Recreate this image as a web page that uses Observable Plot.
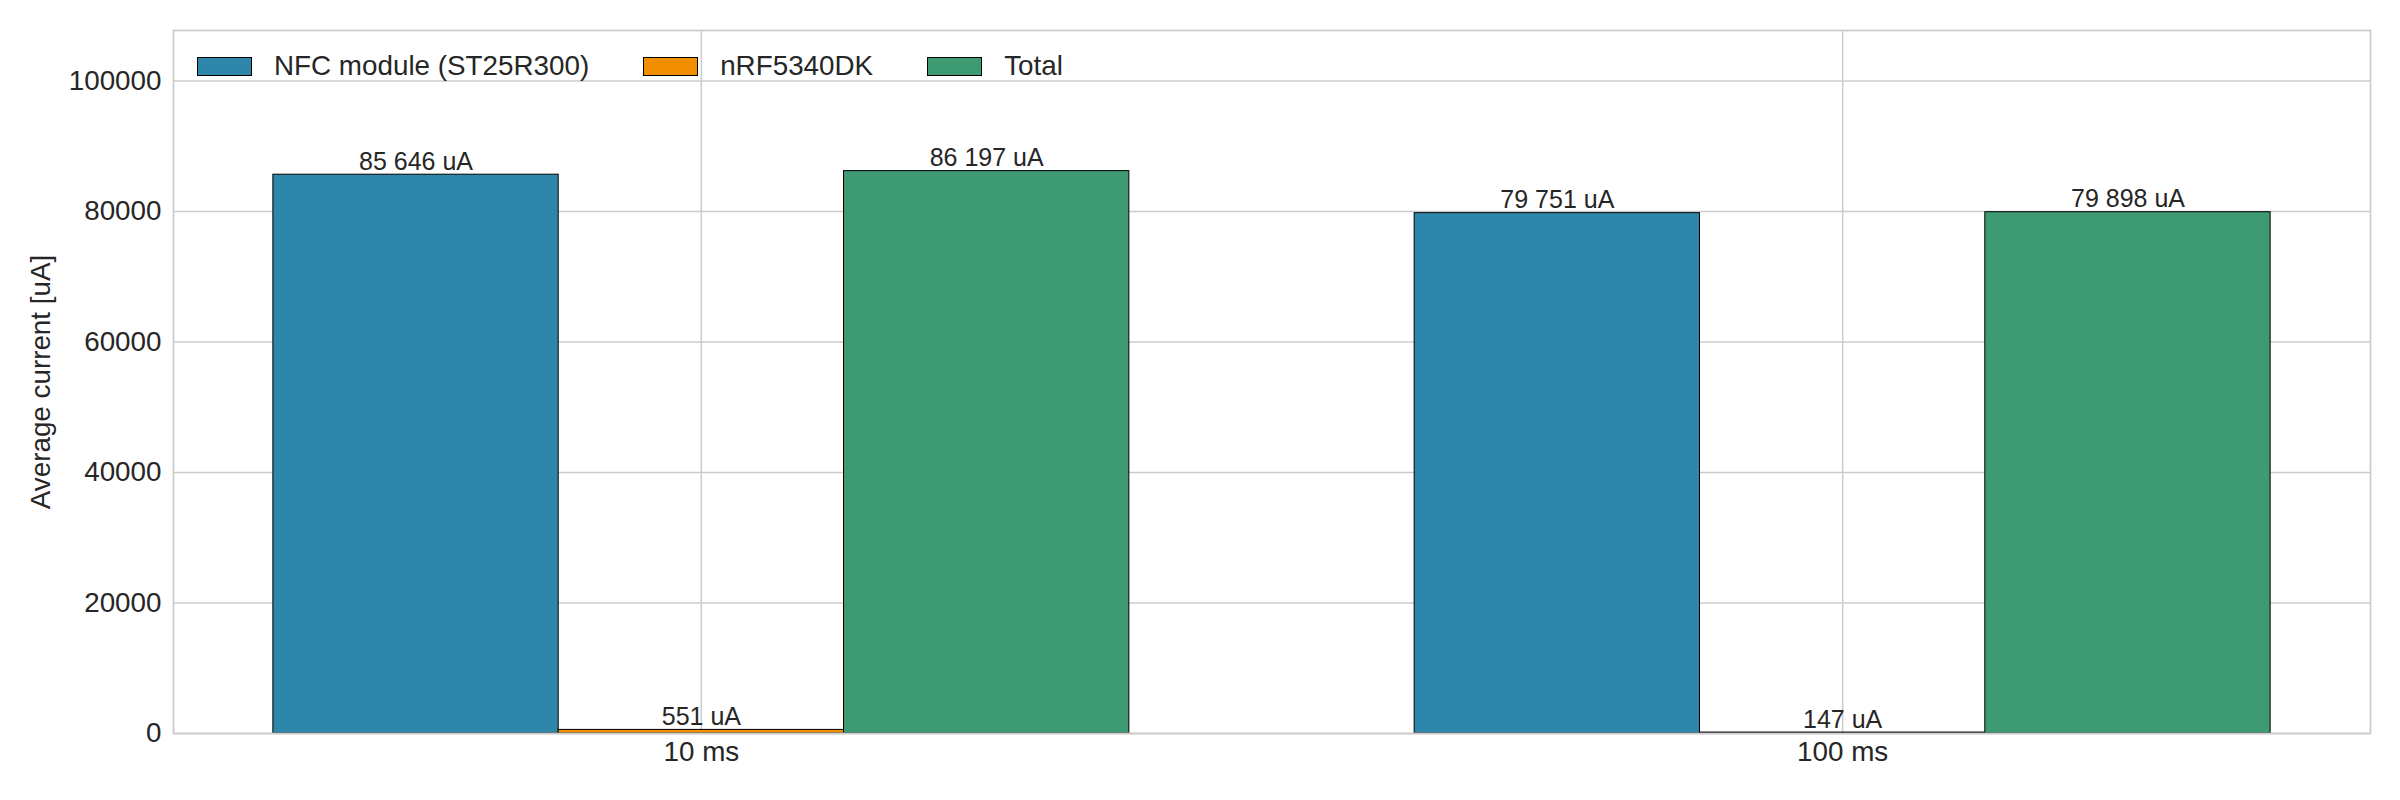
<!DOCTYPE html>
<html>
<head>
<meta charset="utf-8">
<script src="https://cdn.jsdelivr.net/npm/d3@7"></script>
<script src="https://cdn.jsdelivr.net/npm/@observablehq/plot@0.6"></script>
<style>
  html, body { margin: 0; padding: 0; background: #ffffff; }
  body { font-family: "Liberation Sans", Arial, sans-serif; color: #262626; }
  #wrap { position: relative; width: 2400px; height: 800px; }
  #legend { position: absolute; left: 197px; top: 50px; display: flex; align-items: center; font-size: 27.8px; color: #262626; }
  .item { display: flex; align-items: center; }
  .sw { width: 53px; height: 17px; border: 1.2px solid #000; box-sizing: content-box; }
  .lab { margin-left: 22px; white-space: nowrap; }
</style>
</head>
<body>
<div id="wrap"></div>
<script>
// ---- data ----
const intervals = ["10 ms", "100 ms"];
const seriesNames = ["NFC module (ST25R300)", "nRF5340DK", "Total"];
const nfcValues = [85646, 79751];
const nrfValues = [551, 147];
const totalValues = [86197, 79898];
const seriesColors = ["#2E86AB", "#F18F01", "#3D9A72"];
const yTicks = [0, 20000, 40000, 60000, 80000, 100000];
const yLabel = "Average current [uA]";

const seriesValues = [nfcValues, nrfValues, totalValues];
const barWidth = 0.25;
const rows = [];
intervals.forEach((iv, i) => {
  seriesNames.forEach((s, j) => {
    const c = i + (j - 1) * barWidth;
    rows.push({interval: iv, series: s, value: seriesValues[j][i], x1: c - barWidth / 2, x2: c + barWidth / 2, xc: c});
  });
});

const loc = d3.formatLocale({decimal: ".", thousands: " ", grouping: [3], currency: ["", ""]});
const fmt = loc.format(",d");
const yMax = d3.max(totalValues) * 1.25;

const chart = Plot.plot({
  width: 2400,
  height: 800,
  marginLeft: 173,
  marginRight: 30,
  marginTop: 30,
  marginBottom: 67,
  style: {fontFamily: '"Liberation Sans", Arial, sans-serif', color: "#262626", background: "#ffffff", overflow: "visible"},
  x: {type: "linear", domain: [-0.4625, 1.4625]},
  y: {domain: [0, yMax]},
  color: {domain: seriesNames, range: seriesColors},
  marks: [
    Plot.gridY(yTicks, {stroke: "#cccccc", strokeOpacity: 1, strokeWidth: 1.5}),
    Plot.gridX([0, 1], {stroke: "#cccccc", strokeOpacity: 1, strokeWidth: 1.5}),
    Plot.rectY(rows, {x1: "x1", x2: "x2", y: "value", fill: "series", stroke: "#000000", strokeWidth: 1}),
    Plot.text(rows, {x: "xc", y: "value", text: d => fmt(d.value) + " uA", lineAnchor: "bottom", dy: -5, fontSize: 25, fill: "#262626"}),
    Plot.frame({stroke: "#cccccc", strokeWidth: 1.8}),
    Plot.axisY({ticks: yTicks, tickSize: 0, tickPadding: 12, fontSize: 27.8, tickFormat: d => String(d),
      label: yLabel, labelAnchor: "center", labelArrow: "none", labelOffset: 143}),
    Plot.axisX({ticks: [0, 1], tickSize: 0, tickPadding: 8, fontSize: 27.8, tickFormat: i => intervals[i], label: null})
  ]
});

const wrap = document.getElementById("wrap");
wrap.appendChild(chart);

const legend = document.createElement("div");
legend.id = "legend";
const gaps = [0, 54, 54];
seriesNames.forEach((s, j) => {
  const it = document.createElement("div");
  it.className = "item";
  if (j > 0) it.style.marginLeft = gaps[j] + "px";
  const sw = document.createElement("div");
  sw.className = "sw";
  sw.style.background = seriesColors[j];
  const lb = document.createElement("span");
  lb.className = "lab";
  lb.textContent = s;
  it.appendChild(sw);
  it.appendChild(lb);
  legend.appendChild(it);
});
wrap.appendChild(legend);
</script>
</body>
</html>
